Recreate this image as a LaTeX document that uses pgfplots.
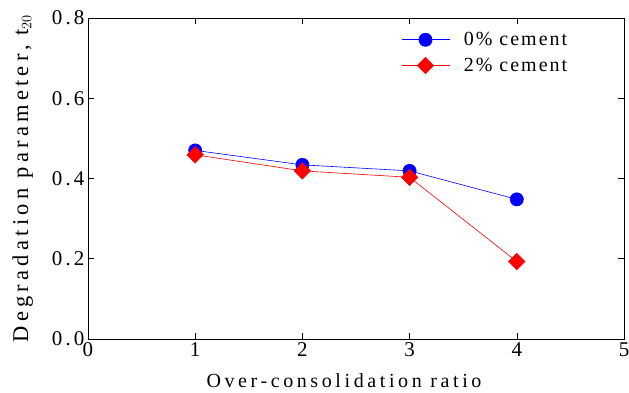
\documentclass[border=0pt]{standalone}
\usepackage{pgfplots}
\pgfplotsset{compat=1.18}
\usepackage{fontspec}
\setmainfont{Liberation Serif}
\begin{document}
\begin{tikzpicture}
\begin{axis}[
  scale only axis,
  width=536pt, height=321pt,
  xmin=0, xmax=5, ymin=0, ymax=0.8,
  xtick={0,1,2,3,4,5},
  ytick={0,0.2,0.4,0.6,0.8},
  yticklabel style={/pgf/number format/fixed,/pgf/number format/fixed zerofill,/pgf/number format/precision=1},
  /pgf/number format/assume math mode=true,
  tick align=inside,
  major tick length=6pt,
  tick style={black, line width=0.6pt},
  axis line style={line width=0.8pt},
  ticklabel style={font=\fontsize{21}{21}\selectfont\addfontfeature{LetterSpace=15}},
  xlabel={Over-consolidation ratio},
  ylabel={Degradation parameter, t$_{20}$},
  xlabel style={font=\fontsize{20}{20}\selectfont\addfontfeature{LetterSpace=18}, yshift=-10pt, xshift=-12pt},
  ylabel style={font=\fontsize{22.5}{22.5}\selectfont\addfontfeature{LetterSpace=19}, yshift=12pt},
  legend style={draw=none, fill=none, at={(0.584,0.962)}, anchor=north west, font=\fontsize{20}{20}\selectfont\addfontfeature{LetterSpace=10}, row sep=7pt, inner sep=0pt, /tikz/every odd column/.append style={column sep=12pt}},
  legend cell align=left,
  legend image code/.code={\draw[mark repeat=2,mark phase=2,#1] plot coordinates {(0pt,0pt) (24pt,0pt) (48pt,0pt)};},
]
\addplot[blue, line width=0.6pt, mark=*, mark size=6.6pt, mark options={fill=blue}] coordinates {(1,0.470) (2,0.434) (3,0.419) (4,0.348)};
\addlegendentry{0\% cement}
\addplot[red, line width=0.6pt, mark=square*, mark size=5.8pt, mark options={fill=red, rotate=45}] coordinates {(1,0.459) (2,0.419) (3,0.403) (4,0.193)};
\addlegendentry{2\% cement}
\end{axis}
\pgfresetboundingbox
\path[use as bounding box] ([xshift=-88pt,yshift=-54pt]current axis.south west) rectangle ([xshift=5pt,yshift=18pt]current axis.north east);
\end{tikzpicture}
\end{document}
